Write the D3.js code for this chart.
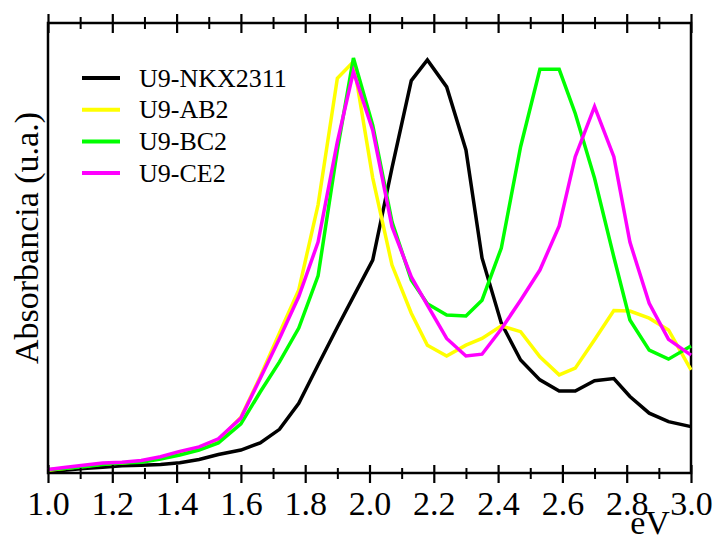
<!DOCTYPE html>
<html>
<head>
<meta charset="utf-8">
<script src="https://cdn.jsdelivr.net/npm/d3@7"></script>
<style>
  body { margin: 0; background: #fff; }
  svg { display: block; }
</style>
</head>
<body>
<svg id="chart" width="718" height="536"></svg>
<script>
// Photon energy (eV)
const energies = [1.00, 1.05, 1.11, 1.17, 1.23, 1.29, 1.35, 1.41, 1.47, 1.53,
  1.60, 1.66, 1.72, 1.78, 1.84, 1.90, 1.95, 2.01, 2.07, 2.13, 2.18, 2.24, 2.30,
  2.35, 2.41, 2.47, 2.53, 2.59, 2.64, 2.70, 2.76, 2.81, 2.87, 2.93, 3.00];

// Absorbance (arbitrary units) for each sample
const nkx2311 = [0.003, 0.006, 0.010, 0.013, 0.016, 0.017, 0.019, 0.023, 0.030, 0.041,
  0.051, 0.067, 0.097, 0.155, 0.240, 0.324, 0.392, 0.473, 0.678, 0.872, 0.918, 0.858, 0.718,
  0.478, 0.333, 0.251, 0.207, 0.182, 0.182, 0.205, 0.210, 0.170, 0.133, 0.114, 0.103];
const ab2 = [0.006, 0.010, 0.015, 0.020, 0.022, 0.026, 0.034, 0.045, 0.056, 0.073,
  0.124, 0.214, 0.311, 0.407, 0.596, 0.877, 0.914, 0.656, 0.462, 0.355, 0.284, 0.260, 0.284,
  0.299, 0.327, 0.314, 0.258, 0.218, 0.233, 0.296, 0.361, 0.360, 0.344, 0.318, 0.229];
const bc2 = [0.007, 0.010, 0.014, 0.019, 0.022, 0.024, 0.031, 0.040, 0.051, 0.067,
  0.109, 0.180, 0.247, 0.322, 0.438, 0.718, 0.922, 0.773, 0.558, 0.429, 0.376, 0.351, 0.349,
  0.384, 0.500, 0.725, 0.897, 0.897, 0.799, 0.655, 0.480, 0.340, 0.273, 0.253, 0.282];
const ce2 = [0.008, 0.012, 0.017, 0.022, 0.024, 0.028, 0.036, 0.048, 0.058, 0.076,
  0.122, 0.210, 0.299, 0.392, 0.513, 0.736, 0.892, 0.762, 0.547, 0.436, 0.373, 0.299, 0.260,
  0.264, 0.320, 0.384, 0.451, 0.549, 0.703, 0.814, 0.703, 0.513, 0.377, 0.297, 0.262];

const seriesNames = ["U9-NKX2311", "U9-AB2", "U9-BC2", "U9-CE2"];
const seriesColors = ["#000000", "#ffff00", "#00ff00", "#ff00ff"];
const seriesValues = [nkx2311, ab2, bc2, ce2];

const majorTicks = [1.0, 1.2, 1.4, 1.6, 1.8, 2.0, 2.2, 2.4, 2.6, 2.8, 3.0];
const minorTicks = [1.1, 1.3, 1.5, 1.7, 1.9, 2.1, 2.3, 2.5, 2.7, 2.9];

const xTitle = "eV";
const yTitle = "Absorbancia (u.a.)";

const FONT = "'Liberation Serif', 'Times New Roman', serif";

const svg = d3.select("#chart");
const plot = { left: 48, right: 691, top: 23, bottom: 473 };

const x = d3.scaleLinear().domain([1.0, 3.0]).range([plot.left, plot.right]);
const y = d3.scaleLinear().domain([0, 1]).range([plot.bottom, plot.top]);

// Frame
svg.append("rect")
  .attr("x", plot.left).attr("y", plot.top)
  .attr("width", plot.right - plot.left).attr("height", plot.bottom - plot.top)
  .attr("fill", "none").attr("stroke", "#000").attr("stroke-width", 2.5);

// Curves
const line = d3.line()
  .x((d, i) => x(energies[i]))
  .y(d => y(d));

seriesValues.forEach((vals, k) => {
  svg.append("path")
    .datum(vals)
    .attr("d", line)
    .attr("fill", "none")
    .attr("stroke", seriesColors[k])
    .attr("stroke-width", 3.5)
    .attr("stroke-linejoin", "miter");
});

// Bottom axis: ticks crossing the frame line
function crossTicks(g, up, down, width) {
  g.select(".domain").remove();
  g.selectAll(".tick line")
    .attr("y1", -up).attr("y2", down)
    .attr("stroke", "#000").attr("stroke-width", width);
}

const bottomMajor = svg.append("g")
  .attr("transform", `translate(0,${plot.bottom})`)
  .call(d3.axisBottom(x).tickValues(majorTicks).tickFormat(d3.format(".1f")).tickSize(10));
crossTicks(bottomMajor, 8, 10, 2.2);
bottomMajor.selectAll(".tick text")
  .attr("y", 42).attr("dy", null)
  .attr("font-family", FONT).attr("font-size", 34).attr("fill", "#000");

const bottomMinor = svg.append("g")
  .attr("transform", `translate(0,${plot.bottom})`)
  .call(d3.axisBottom(x).tickValues(minorTicks).tickFormat("").tickSize(6));
crossTicks(bottomMinor, 5, 6, 2);

// Top axis: unlabelled ticks
const topMajor = svg.append("g")
  .attr("transform", `translate(0,${plot.top})`)
  .call(d3.axisTop(x).tickValues(majorTicks).tickFormat(""));
crossTicks(topMajor, 9, 10, 2.2);

const topMinor = svg.append("g")
  .attr("transform", `translate(0,${plot.top})`)
  .call(d3.axisTop(x).tickValues(minorTicks).tickFormat(""));
crossTicks(topMinor, 6, 6, 2);

// Axis titles
svg.append("text")
  .attr("x", 650).attr("y", 534)
  .attr("text-anchor", "middle")
  .attr("font-family", FONT).attr("font-size", 34)
  .text(xTitle);

svg.append("text")
  .attr("transform", "translate(38,238) rotate(-90)")
  .attr("text-anchor", "middle")
  .attr("font-family", FONT).attr("font-size", 34)
  .text(yTitle);

// Legend
const legend = svg.append("g");
seriesNames.forEach((name, k) => {
  const cy = 78 + k * 31.7;
  legend.append("line")
    .attr("x1", 82).attr("x2", 120)
    .attr("y1", cy).attr("y2", cy)
    .attr("stroke", seriesColors[k]).attr("stroke-width", 4);
  legend.append("text")
    .attr("x", 139).attr("y", cy + 8.5)
    .attr("font-family", FONT).attr("font-size", 26)
    .text(name);
});
</script>
</body>
</html>
